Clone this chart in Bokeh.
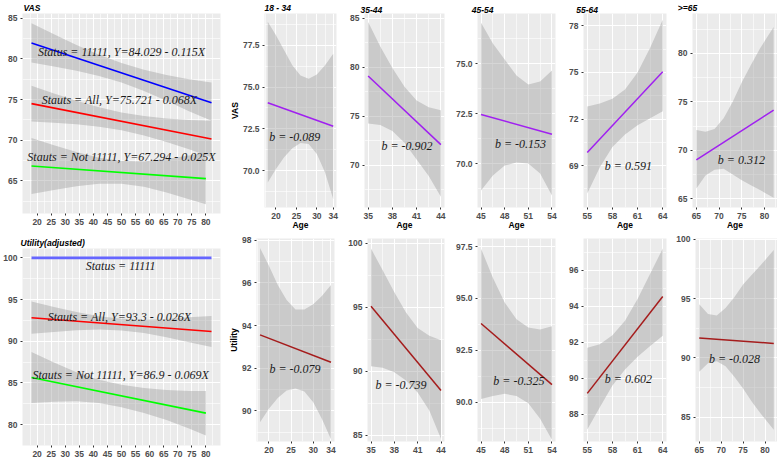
from bokeh.plotting import figure
from bokeh.models import Range1d, FixedTicker, NumeralTickFormatter, Title
from bokeh.layouts import row, column
from bokeh.core.properties import value
from bokeh.embed import file_html
from bokeh.resources import INLINE

# ------------------------------------------------------------------ data
# Left panels: whole sample
big_x_ticks = [20, 25, 30, 35, 40, 45, 50, 55, 60, 65, 70, 75, 80]
vas_big_y_ticks = [65, 70, 75, 80, 85]
util_big_y_ticks = [80, 85, 90, 95, 100]

band_x = [18, 26, 34, 42, 50, 58, 66, 74, 82]
band_x_not = [18, 26, 34, 42, 50, 58, 66, 74, 80]
fit_x = [18, 82]
fit_x_not = [18, 80]

vas_11111_fit = [81.96, 74.60]
vas_11111_upper = [84.36, 83.01, 81.71, 80.51, 79.48, 78.67, 78.03, 77.49, 77.10]
vas_11111_lower = [79.56, 79.07, 78.53, 77.89, 77.08, 76.05, 74.85, 73.55, 72.40]
vas_all_fit = [74.50, 70.15]
vas_all_upper = [76.70, 75.75, 74.86, 74.06, 73.42, 72.98, 72.68, 72.49, 72.40]
vas_all_lower = [72.30, 72.15, 71.96, 71.66, 71.22, 70.58, 69.78, 68.89, 67.90]
vas_not_fit = [66.84, 65.29]
vas_not_upper = [70.29, 69.39, 68.54, 67.84, 67.44, 67.39, 67.69, 68.14, 68.44]
vas_not_lower = [63.39, 63.89, 64.34, 64.64, 64.64, 64.29, 63.59, 62.74, 62.14]
vas_big_texts = ["Status = 11111, Y=84.029 - 0.115X",
                 "Stauts = All, Y=75.721 - 0.068X",
                 "Stauts = Not 11111, Y=67.294 - 0.025X"]

util_11111_fit = [100, 100]
util_all_fit = [92.83, 91.17]
util_all_upper = [94.76, 94.12, 93.52, 93.01, 92.70, 92.59, 92.68, 92.88, 93.02]
util_all_lower = [90.90, 91.12, 91.32, 91.41, 91.30, 90.99, 90.48, 89.88, 89.32]
util_not_fit = [85.66, 81.38]
util_not_upper = [88.73, 87.46, 86.30, 85.40, 84.80, 84.40, 84.15, 84.04, 84.05]
util_not_lower = [82.59, 82.76, 82.80, 82.60, 82.10, 81.40, 80.55, 79.54, 78.71]
util_big_texts = ["Status = 11111",
                  "Stauts = All, Y=93.3 - 0.026X",
                  "Stauts = Not 11111, Y=86.9 - 0.069X"]

# Age-group panels
groups = ["18 - 34", "35-44", "45-54", "55-64", ">=65"]
group_fit_x = [[18, 34], [35, 44], [45, 54], [55, 64], [65, 82]]
group_band_x = [[18, 20, 22, 24, 26, 28, 30, 32, 34],
                [35, 36.5, 38, 39.5, 41, 42.5, 44],
                [45, 46.5, 48, 49.5, 51, 52.5, 54],
                [55, 56.5, 58, 59.5, 61, 62.5, 64],
                [65, 67, 69, 71, 73, 75, 77, 79, 82]]
group_x_ticks = [[20, 25, 30, 34], [35, 38, 41, 44], [45, 48, 51, 54],
                 [55, 58, 61, 64], [65, 70, 75, 80]]

vas_fit = [[74.06, 72.66], [79.1, 72.1], [72.45, 71.46], [69.85, 75.04], [69.0, 74.14]]
vas_upper = [[78.9, 78.1, 77.2, 76.3, 75.7, 75.5, 75.75, 76.3, 77.0],
             [84.6, 82.1, 79.9, 78.0, 76.6, 75.9, 75.6],
             [77.04, 76.0, 75.2, 74.4, 73.95, 74.1, 74.65],
             [72.8, 73.0, 73.3, 73.9, 75.0, 76.6, 78.4],
             [72.1, 71.9, 72.2, 73.3, 75.0, 77.0, 78.8, 80.5, 82.7]]
vas_lower = [[69.3, 70.1, 70.8, 71.35, 71.65, 71.6, 71.0, 69.9, 68.3],
             [74.25, 74.1, 73.5, 72.3, 70.6, 68.9, 66.8],
             [68.65, 69.4, 69.9, 70.05, 70.0, 69.5, 68.4],
             [67.2, 68.9, 70.2, 71.0, 71.6, 72.05, 72.5],
             [66.06, 67.4, 68.0, 68.1, 67.5, 66.9, 66.4, 65.9, 65.1]]
vas_b = ["b = -0.089", "b = -0.902", "b = -0.153", "b = 0.591", "b = 0.312"]
vas_y_ticks = [[70, 72.5, 75, 77.5], [70, 75, 80, 85], [70, 72.5, 75],
               [69, 72, 75, 78], [65, 70, 75, 80]]
vas_y_fmt = ["0.0", "0", "0.0", "0", "0"]

util_fit = [[93.56, 92.28], [95.1, 88.51], [93.79, 90.84], [89.17, 94.54], [91.68, 91.21]]
util_upper = [[97.64, 96.8, 95.9, 95.2, 94.75, 94.75, 95.0, 95.4, 95.9],
              [99.6, 97.9, 96.2, 94.6, 93.4, 92.8, 92.45],
              [97.4, 96.0, 94.8, 94.0, 93.6, 93.5, 93.66],
              [91.7, 91.9, 92.4, 93.2, 94.4, 95.8, 97.2],
              [94.52, 93.7, 93.58, 94.2, 95.1, 96.18, 97.0, 97.8, 99.1]]
util_lower = [[89.46, 90.1, 90.6, 90.95, 91.05, 90.9, 90.4, 89.6, 88.66],
              [90.4, 90.3, 89.95, 89.3, 88.35, 86.95, 84.74],
              [90.15, 90.3, 90.4, 90.3, 89.95, 89.2, 88.18],
              [87.17, 88.4, 89.6, 90.5, 91.2, 91.8, 92.37],
              [88.82, 89.55, 89.72, 89.3, 88.4, 87.42, 86.3, 85.3, 83.94]]
util_b = ["b = -0.079", "b = -0.739", "b = -0.325", "b = 0.602", "b = -0.028"]
util_y_ticks = [[90, 92, 94, 96, 98], [85, 90, 95, 100], [90, 92.5, 95, 97.5],
                [88, 90, 92, 94, 96], [85, 90, 95, 100]]
util_y_fmt = ["0", "0", "0.0", "0", "0"]

# ------------------------------------------------------------------ layout (not data)
big_x_range = (14.8, 85.2)
vas_big_y_range = (61.0, 85.57)
util_big_y_range = (77.5, 101.13)
group_x_range = [(17.2, 34.8), (34.55, 44.45), (44.55, 54.45), (54.55, 64.45), (64.15, 82.85)]
vas_y_range = [(67.8, 79.4), (65.7, 85.46), (67.8, 77.5), (66.3, 78.8), (64.1, 84.1)]
util_y_range = [(88.56, 98.08), (84.53, 100.39), (88.1, 97.89), (86.5, 97.76), (82.95, 100.06)]

vas_big_text_pos = ([50.0, 49.3, 50.0], [80.9, 74.9, 68.0])
util_big_text_pos = ([49.7, 49.3, 49.7], [99.0, 92.9, 85.9])
vas_b_pos = ([24.6, 39.8, 50.0, 59.9, 74.9], [72.0, 72.0, 71.0, 69.0, 69.0])
util_b_pos = ([25.9, 38.85, 49.8, 59.9, 73.05], [91.94, 88.96, 91.0, 89.96, 89.9])

XB = [0, 226, 345, 452, 566, 672, 777]
top_frames = [(12, 221), (257, 336), (364, 444), (476.7, 555), (580.3, 665.6), (691.7, 777)]
bot_frames = [(15, 220), (249.3, 334), (363.3, 444), (477.3, 555), (581, 665.7), (695, 777)]
top_title_x = [13, 257, 360, 471, 573, 677]

SANS = "Liberation Sans"
SERIF = "Liberation Serif"


def minors(t):
    m = [(a + b) / 2 for a, b in zip(t[:-1], t[1:])]
    return [t[0] - (t[1] - t[0]) / 2] + m + [t[-1] + (t[-1] - t[-2]) / 2]


def make_fig(col, ry0, ry1, fx, fy, xr, yr, xt, yt, xfmt, yfmt,
             title=None, title_x=None, xlabel=None, ylabel=None):
    x0, x1 = XB[col], XB[col + 1]
    p = figure(width=x1 - x0, height=ry1 - ry0,
               min_border_left=round(fx[0] - x0), min_border_right=round(x1 - fx[1]),
               min_border_top=round(fy[0] - ry0), min_border_bottom=round(ry1 - fy[1]),
               x_range=Range1d(*xr), y_range=Range1d(*yr),
               output_backend="svg", toolbar_location=None)
    p.background_fill_color = "#EBEBEB"
    p.border_fill_color = "white"
    p.outline_line_color = None
    xtk = FixedTicker(ticks=xt, minor_ticks=minors(xt))
    ytk = FixedTicker(ticks=yt, minor_ticks=minors(yt))
    p.xaxis.ticker = xtk
    p.yaxis.ticker = ytk
    p.xgrid.ticker = xtk
    p.ygrid.ticker = ytk
    p.xaxis.formatter = NumeralTickFormatter(format=xfmt)
    p.yaxis.formatter = NumeralTickFormatter(format=yfmt)
    p.grid.grid_line_color = "white"
    p.grid.grid_line_width = 1.1
    p.grid.minor_grid_line_color = "white"
    p.grid.minor_grid_line_width = 0.6
    p.grid.minor_grid_line_alpha = 1.0
    for ax in (p.xaxis, p.yaxis):
        ax.axis_line_color = None
        ax.major_tick_line_color = "#333333"
        ax.major_tick_in = 0
        ax.major_tick_out = 2
        ax.minor_tick_line_color = None
        ax.major_label_text_font = SANS
        ax.major_label_text_font_style = "bold"
        ax.major_label_text_font_size = "8.5px"
        ax.major_label_text_color = "#4D4D4D"
        ax.major_label_standoff = 1
        ax.axis_label_text_font = SANS
        ax.axis_label_text_font_style = "bold"
        ax.axis_label_text_font_size = "8.5px"
        ax.axis_label_text_color = "black"
        ax.axis_label_standoff = 0
    if xlabel:
        p.xaxis.axis_label = xlabel
        p.xaxis.major_label_standoff = 1
        p.xaxis.axis_label_standoff = -2
    if ylabel:
        p.yaxis.axis_label = ylabel
    if title:
        p.add_layout(Title(text=title, align="left", offset=title_x - fx[0], standoff=1,
                           text_font=SANS, text_font_style="bold italic",
                           text_font_size="8.5px", text_color="black"), "above")
    return p


def band(p, x, lo, hi):
    p.varea(x=x, y1=lo, y2=hi, fill_color="#999999", fill_alpha=0.4)


def label(p, xs, ys, texts):
    p.text(x=xs, y=ys, text=texts, text_align="center", text_baseline="middle",
           text_font=value(SERIF), text_font_style="italic",
           text_font_size="12px", text_color="#1A1A1A")


# ---- left column: whole sample
pa = make_fig(0, 0, 232, top_frames[0], (11, 213), big_x_range, vas_big_y_range,
              big_x_ticks, vas_big_y_ticks, "0", "0", title="VAS", title_x=top_title_x[0])
band(pa, band_x, vas_11111_lower, vas_11111_upper)
band(pa, band_x, vas_all_lower, vas_all_upper)
band(pa, band_x_not, vas_not_lower, vas_not_upper)
pa.line(fit_x, vas_11111_fit, line_color="#0000FF", line_width=1.6)
pa.line(fit_x, vas_all_fit, line_color="#FF0000", line_width=1.6)
pa.line(fit_x_not, vas_not_fit, line_color="#00FF00", line_width=1.6)
label(pa, vas_big_text_pos[0], vas_big_text_pos[1], vas_big_texts)

pg = make_fig(0, 232, 459, bot_frames[0], (247.7, 449), big_x_range, util_big_y_range,
              big_x_ticks, util_big_y_ticks, "0", "0", title="Utility(adjusted)", title_x=13)
band(pg, band_x, util_all_lower, util_all_upper)
band(pg, band_x_not, util_not_lower, util_not_upper)
pg.line(fit_x, util_11111_fit, line_color="#6666FF", line_width=2.6)
pg.line(fit_x, util_all_fit, line_color="#FF0000", line_width=1.6)
pg.line(fit_x_not, util_not_fit, line_color="#00FF00", line_width=1.6)
label(pg, util_big_text_pos[0], util_big_text_pos[1], util_big_texts)

# ---- age-group panels
top = []
bot = []
for i, g in enumerate(groups):
    p = make_fig(i + 1, 0, 232, top_frames[i + 1], (11, 213), group_x_range[i], vas_y_range[i],
                 group_x_ticks[i], vas_y_ticks[i], "0", vas_y_fmt[i],
                 title=g, title_x=top_title_x[i + 1], xlabel="Age",
                 ylabel="VAS" if i == 0 else None)
    band(p, group_band_x[i], vas_lower[i], vas_upper[i])
    p.line(group_fit_x[i], vas_fit[i], line_color="#A020F0", line_width=1.5)
    label(p, [vas_b_pos[0][i]], [vas_b_pos[1][i]], [vas_b[i]])
    top.append(p)

    q = make_fig(i + 1, 232, 459, bot_frames[i + 1], (238.3, 441), group_x_range[i], util_y_range[i],
                 group_x_ticks[i], util_y_ticks[i], "0", util_y_fmt[i],
                 ylabel="Utility" if i == 0 else None)
    band(q, group_band_x[i], util_lower[i], util_upper[i])
    q.line(group_fit_x[i], util_fit[i], line_color="#A51C1C", line_width=1.5)
    label(q, [util_b_pos[0][i]], [util_b_pos[1][i]], [util_b[i]])
    bot.append(q)

layout = row(column(pa, pg, spacing=0),
             column(row(*top, spacing=0), row(*bot, spacing=0), spacing=0),
             spacing=0)
open("out.html", "w").write(file_html(layout, INLINE))
